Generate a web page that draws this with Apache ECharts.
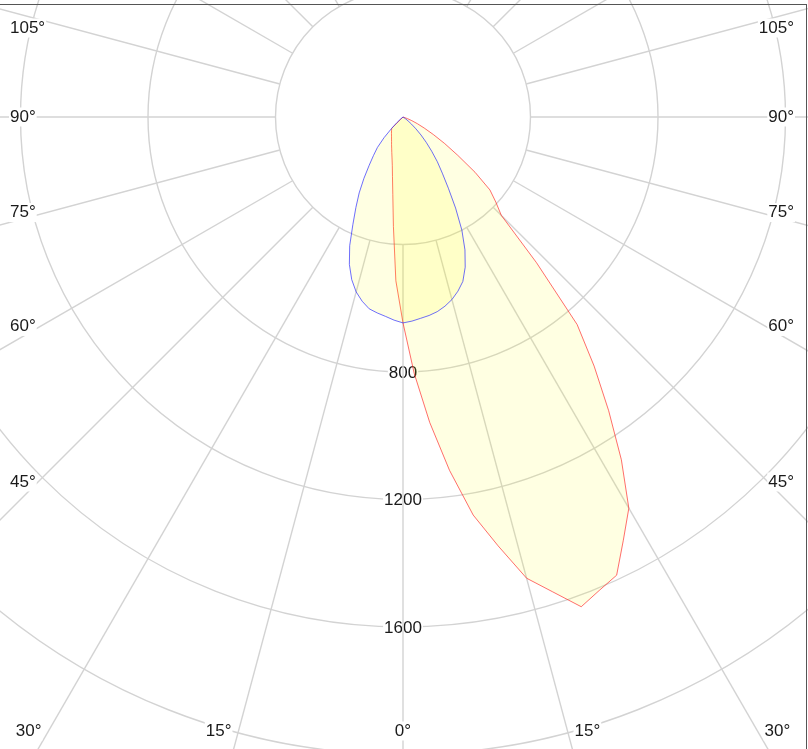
<!DOCTYPE html>
<html>
<head>
<meta charset="utf-8">
<script src="https://cdn.jsdelivr.net/npm/echarts@6/dist/echarts.min.js"></script>
<style>
html,body{margin:0;padding:0;background:#fff;overflow:hidden;}
#wrap{position:relative;width:808px;height:749px;overflow:hidden;}
#chart{position:absolute;left:0;top:0;width:808px;height:749px;}
#frame{position:absolute;left:-2px;top:4px;width:808px;height:800px;
  border-top:1px solid #555;border-right:1px solid #555;pointer-events:none;z-index:10;}
</style>
</head>
<body>
<div id="wrap"><div id="chart"></div><div id="frame"></div></div>
<script>
// gamma angles (degrees from nadir) at which intensities are given
const gammaAngles = [0,2.5,5,7.5,10,12.5,15,17.5,20,22.5,25,27.5,30,32.5,35,37.5,40,42.5,45,
                     47.5,50,52.5,55,57.5,60,62.5,65,67.5,70,72.5,75,77.5,80,82.5,85,87.5,90];
// C0 / C180 plane (blue curve), cd
const c0Values   = [646,641,634,628,620,608,593,573,549,510,460,400,330,265,215,177,140,108,80,
                    55,35,20,10,4,0,0,0,0,0,0,0,0,0,0,0,0,0];
const c180Values = [646,638,628,620,611,592,568,535,492,437,372,320,275,228,185,152,125,88,50,
                    25,10,3,0,0,0,0,0,0,0,0,0,0,0,0,0,0,0];
// C90 / C270 plane (red curve), cd
const c90Values  = [646,805,962,1118,1268,1378,1498,1562,1635,1608,1586,1497,1417,1275,1125,985,850,620,436,
                    395,356,285,210,155,110,75,50,30,15,6,0,0,0,0,0,0,0];
const c270Values = [646,514,345,245,190,155,133,117,104,94,85,78,72,67,63,59,56,53,50,
                    0,0,0,0,0,0,0,0,0,0,0,0,0,0,0,0,0,0];
// ring labels and angle tick labels
const ringLabels = [800,1200,1600];
const angleTicks = [0,15,30,45,60,75,90,105];
const radialAngles = [];
for (let a = 0; a < 360; a += 15) radialAngles.push(a);

const CENTER = [403,117];
const RMAX = 2400;
const RADIUS = 765;
const FONT = '17px "Liberation Sans", Arial, sans-serif';
const TEXT_COLOR = '#1a1a1a';

// closed loop: right half (theta = gamma), left half (theta = 360 - gamma)
function loop(rightVals, leftVals){
  const pts = [];
  for (let i = gammaAngles.length-1; i >= 0; i--) pts.push([rightVals[i], gammaAngles[i]]);
  for (let i = 0; i < gammaAngles.length; i++) pts.push([leftVals[i], 360 - gammaAngles[i]]);
  return pts;
}

const gridColor = '#d3d3d3';
const series = [];
radialAngles.forEach(a => {
  series.push({
    type:'line', coordinateSystem:'polar', silent:true, symbol:'none', z:3,
    data:[[400,a],[RMAX,a]],
    lineStyle:{color:gridColor,width:1.4}
  });
});
series.push({
  type:'line', coordinateSystem:'polar', name:'C90-C270', symbol:'none', z:5,
  data: loop(c90Values, c270Values),
  lineStyle:{color:'rgba(255,40,40,0.85)',width:0.8},
  areaStyle:{color:'rgba(255,255,0,0.16)', origin:'start'}
});
series.push({
  type:'line', coordinateSystem:'polar', name:'C0-C180', symbol:'none', z:6,
  data: loop(c0Values, c180Values),
  lineStyle:{color:'rgba(40,40,255,0.85)',width:0.8},
  areaStyle:{color:'rgba(255,255,0,0.16)', origin:'start'}
});
// invisible anchor points for the ring labels (positions come from the polar scale)
const anchorIndex = series.length;
series.push({
  type:'scatter', coordinateSystem:'polar', silent:true, z:1,
  symbolSize:0, itemStyle:{color:'rgba(0,0,0,0)'},
  data: ringLabels.map(v => [v, 0])
});

const LEFT_X = 9, RIGHT_X = 795, BOTTOM_Y = 731, TOP_Y = 28;

const chart = echarts.init(document.getElementById('chart'), null, {renderer:'canvas'});
chart.setOption({
  animation:false,
  backgroundColor:'#fff',
  polar:{center:CENTER, radius:RADIUS},
  angleAxis:{type:'value', min:0, max:360, interval:15, startAngle:270, clockwise:false, z:0,
    axisLine:{show:false}, axisTick:{show:false}, axisLabel:{show:false}, splitLine:{show:false}},
  radiusAxis:{type:'value', min:0, max:RMAX, interval:400, z:0,
    axisLine:{show:false}, axisTick:{show:false}, axisLabel:{show:false},
    splitLine:{show:true, lineStyle:{color:gridColor, width:1.4}}},
  series:series
});

const graphics = [];
// ring value labels, on the rings along the 0° ray
ringLabels.forEach(v => {
  const p = chart.convertToPixel({seriesIndex:anchorIndex}, [v, 0]);
  graphics.push({
    type:'text', x:p[0], y:p[1] + 1, z:2, silent:true,
    style:{text:String(v), fill:TEXT_COLOR, font:FONT, align:'center', verticalAlign:'middle',
      backgroundColor:'#fff', padding:[0,1]}
  });
});
// angle labels placed where each ray meets the visible frame
angleTicks.forEach(g => {
  const sides = g === 0 ? [0] : [-1, 1];
  sides.forEach(s => {
    const rad = g*Math.PI/180;
    let x, y, align = 'center';
    if (g === 0) { x = CENTER[0]; y = BOTTOM_Y; }
    else {
      const inner = CENTER[0] - LEFT_X - 26;
      let sy = (g === 90) ? CENTER[1] : CENTER[1] + inner/Math.tan(rad) - 3;
      if (sy < TOP_Y) sy = TOP_Y;
      if (sy <= BOTTOM_Y - 10) {
        y = sy;
        if (s < 0) { x = LEFT_X; align = 'left'; } else { x = RIGHT_X; align = 'right'; }
      } else {
        y = BOTTOM_Y;
        const rx = CENTER[0] + s*(BOTTOM_Y - CENTER[1])*Math.tan(rad);
        if (s < 0) { x = rx - 6; align = 'right'; } else { x = rx + 6; align = 'left'; }
      }
    }
    graphics.push({
      type:'text', x:x, y:y, z:50, silent:true,
      style:{text: g + '°', fill:TEXT_COLOR, font:FONT,
        align:align, verticalAlign:'middle', backgroundColor:'#fff', padding:[1,1]}
    });
  });
});
chart.setOption({graphic:graphics});
</script>
</body>
</html>
